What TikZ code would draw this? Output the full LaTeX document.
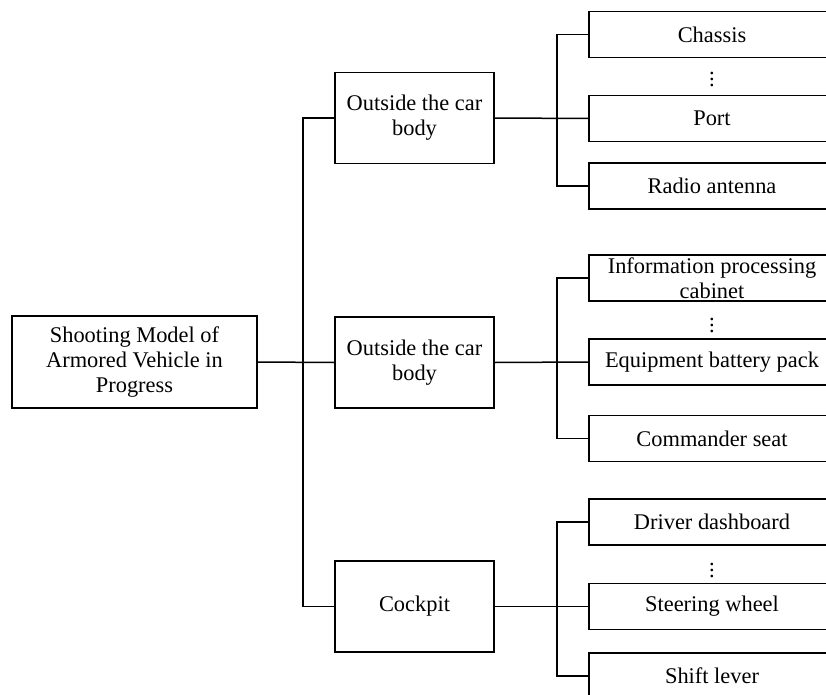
\documentclass[tikz,border=0pt]{standalone}
\usepackage{fontspec}
\setmainfont{Liberation Serif}
\usetikzlibrary{calc}
\newcommand{\tallvdots}{\vbox{\baselineskip6pt\lineskiplimit0pt\hbox{.}\hbox{.}\hbox{.}}}

\begin{document}
\begin{tikzpicture}[x=1pt,y=-1pt,line width=1.5pt,
   every node/.style={font=\fontsize{22.4}{25}\selectfont},
   rootbox/.style={draw,align=center,minimum width=245pt,minimum height=92pt,inner sep=0pt},
   midbox/.style={draw,align=center,minimum width=159pt,minimum height=91pt,inner sep=0pt},
   leafbox/.style={draw,align=center,minimum width=246pt,minimum height=46pt,inner sep=0pt},
   dots/.style={inner sep=0pt}]
   \useasboundingbox (0,0) rectangle (826,695);
   \clip (0,0) rectangle (826,695);

   \coordinate (busL) at (303,0);
   \coordinate (busR) at (557,0);

   \node[rootbox] (root) at (134.5,362) {Shooting Model of\\Armored Vehicle in\\Progress};

   \node[midbox] (outA) at (414.5,118) {Outside the car\\body};
   \node[midbox] (outB) at (414.5,362.5) {Outside the car\\body};
   \node[midbox] (cock) at (414.5,606.5) {Cockpit};
   %%%%%%%%%%
   \node[leafbox] (chassis) at (712,34.5) {Chassis};
   \node[dots] (dotsA) at (712,79) {\tallvdots};
   \node[leafbox] (port) at (712,118.5) {Port};
   \node[leafbox] (radio) at (712,186) {Radio antenna};
   %%%%%%%%%%
   \node[leafbox] (info) at (712,278) {Information processing\\cabinet};
   \node[dots] (dotsB) at (712,325) {\tallvdots};
   \node[leafbox] (battery) at (712,362) {Equipment battery pack};
   \node[leafbox] (seat) at (712,438.5) {Commander seat};
   %%%%%%%%%%
   \node[leafbox] (dash) at (712,522) {Driver dashboard};
   \node[dots] (dotsC) at (712,570) {\tallvdots};
   \node[leafbox] (wheel) at (712,606.5) {Steering wheel};
   \node[leafbox] (lever) at (712,676) {Shift lever};
   %%%%%%%%%%
   \draw (root.east) -- (outB.west);
   \draw (outA.west) -- (outA.west -| busL) |- (cock.west);

   \draw (outA.east) -- (port.west);
   \draw (chassis.west) -- (chassis.west -| busR) |- (radio.west);

   \draw (outB.east) -- (battery.west);
   \draw (info.west) -- (info.west -| busR) |- (seat.west);

   \draw (cock.east) -- (wheel.west);
   \draw (dash.west) -- (dash.west -| busR) |- (lever.west);
\end{tikzpicture}
\end{document}
